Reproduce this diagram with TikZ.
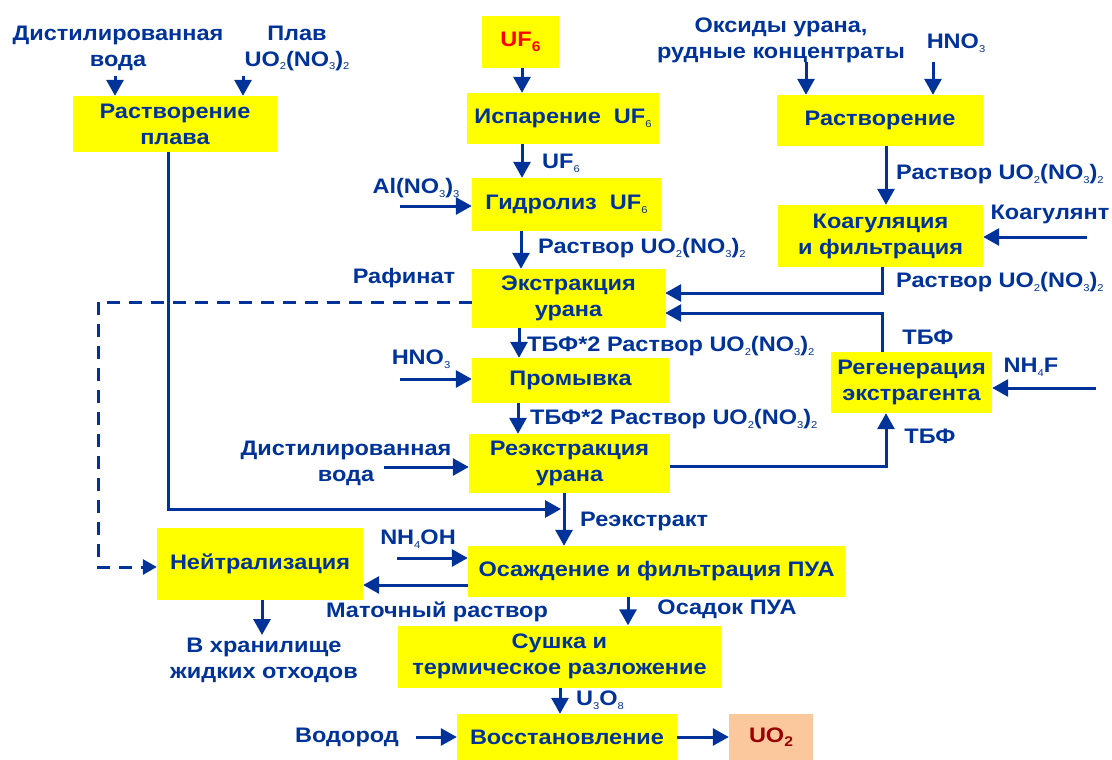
\documentclass[tikz,border=0pt]{standalone}
\usepackage{fontspec}
\setmainfont{Liberation Sans}[FakeStretch=1.12]
\usetikzlibrary{arrows.meta}

\definecolor{flowblue}{RGB}{0,51,153}
\definecolor{boxyellow}{RGB}{255,255,0}
\definecolor{prodfill}{RGB}{251,200,158}
\definecolor{prodred}{RGB}{153,0,0}

% chemical indices: thin small digits, and bold larger ones for the product boxes
\newcommand\chemsub[1]{\raisebox{-0.35ex}{\fontsize{10}{10}\selectfont\mdseries #1}}
\newcommand\chemsubb[1]{\raisebox{-0.4ex}{\fontsize{14}{14}\selectfont\bfseries #1}}

\tikzset{
  txt/.style={font=\bfseries\fontsize{21}{26}\selectfont, text=flowblue, align=center, inner sep=0pt},
  box/.style={txt, fill=boxyellow},
  prod/.style={txt, fill=prodfill, text=prodred},
  lbl/.style={txt},
  flow/.style={draw=flowblue, line width=3pt, -{Triangle[length=16pt,width=17pt]}},
  dflow/.style={draw=flowblue, line width=3pt, dash pattern=on 13pt off 9pt, -{Triangle[length=14pt,width=15pt]}}
}

\begin{document}
\begin{tikzpicture}[x=1pt,y=-1pt]
\useasboundingbox (0,0) rectangle (1112,760);
\fill[white] (0,0) rectangle (1112,760);

% process boxes
\node[box, minimum width=204pt, minimum height=56pt] (plav) at (175,124) {Растворение\\плава};
\node[box, minimum width=77pt, minimum height=52pt, text=red] (uf6) at (520.5,42) {UF\chemsubb{6}};
\node[box, minimum width=192pt, minimum height=51pt] (isp) at (563,118.5) {Испарение\ \ UF\chemsub{6}};
\node[box, minimum width=189pt, minimum height=53pt] (gidr) at (566.5,204.5) {Гидролиз\ \ UF\chemsub{6}};
\node[box, minimum width=206pt, minimum height=51pt] (rastv) at (880,120.5) {Растворение};
\node[box, minimum width=205pt, minimum height=62pt] (koag) at (880.5,236) {Коагуляция\\и фильтрация};
\node[box, minimum width=193pt, minimum height=59pt] (extr) at (568.5,298.5) {Экстракция\\урана};
\node[box, minimum width=197pt, minimum height=45pt] (prom) at (570.5,380.5) {Промывка};
\node[box, minimum width=161pt, minimum height=61pt] (regen) at (911.5,382.5) {Регенерация\\экстрагента};
\node[box, minimum width=201pt, minimum height=59pt] (reextr) at (569.5,463.5) {Реэкстракция\\урана};
\node[box, minimum width=206pt, minimum height=72pt] (neutr) at (260,564) {Нейтрализация};
\node[box, minimum width=377pt, minimum height=51pt] (osazh) at (656.5,571.5) {Осаждение и фильтрация ПУА};
\node[box, minimum width=323pt, minimum height=62pt] (sushka) at (559.5,656.5) {Сушка и\\термическое разложение};
\node[box, minimum width=220pt, minimum height=46pt] (vosst) at (567,737) {Восстановление};
\node[prod, minimum width=84pt, minimum height=46pt] (uo2) at (771,737) {UO\chemsubb{2}};

% stream labels
\node[lbl] (dw) at (118,48) {Дистилированная\\вода};
\node[lbl] (plavl) at (297,48) {Плав\\UO\chemsub{2}(NO\chemsub{3})\chemsub{2}};
\node[lbl] (oxl) at (781,40) {Оксиды урана,\\рудные концентраты};
\node[lbl] (hnoa) at (956,43) {HNO\chemsub{3}};
\node[lbl, anchor=west] (uf6l) at (542,163) {UF\chemsub{6}};
\node[lbl] (all) at (416,188) {Al(NO\chemsub{3})\chemsub{3}};
\node[lbl, anchor=west] (ra) at (538,248) {Раствор UO\chemsub{2}(NO\chemsub{3})\chemsub{2}};
\node[lbl, anchor=west] (rb) at (896,174) {Раствор UO\chemsub{2}(NO\chemsub{3})\chemsub{2}};
\node[lbl] (koagl) at (1050,214) {Коагулянт};
\node[lbl, anchor=west] (rc) at (896,282) {Раствор UO\chemsub{2}(NO\chemsub{3})\chemsub{2}};
\node[lbl] (raf) at (404,278) {Рафинат};
\node[lbl, anchor=west] (ta) at (527,346) {ТБФ*2 Раствор UO\chemsub{2}(NO\chemsub{3})\chemsub{2}};
\node[lbl] (hnob) at (421,359) {HNO\chemsub{3}};
\node[lbl, anchor=west] (tb) at (530,419) {ТБФ*2 Раствор UO\chemsub{2}(NO\chemsub{3})\chemsub{2}};
\node[lbl] (tbfa) at (928,337) {ТБФ};
\node[lbl] (nhf) at (1031,367) {NH\chemsub{4}F};
\node[lbl] (tbfb) at (930,436) {ТБФ};
\node[lbl] (dwb) at (346,463) {Дистилированная\\вода};
\node[lbl, anchor=west] (reel) at (580,521) {Реэкстракт};
\node[lbl] (nhoh) at (418,539) {NH\chemsub{4}OH};
\node[lbl] (mat) at (437,612) {Маточный раствор};
\node[lbl] (osl) at (727,609) {Осадок ПУА};
\node[lbl] (stor) at (264,660) {В хранилище\\жидких отходов};
\node[lbl, anchor=west] (uoo) at (576,700) {U\chemsub{3}O\chemsub{8}};
\node[lbl] (hyd) at (347,737) {Водород};

% free ends of the feed arrows
\coordinate (fdw) at (115,76);
\coordinate (fplav) at (243,76);
\coordinate (fal) at (400,206);
\coordinate (fox) at (806,62);
\coordinate (fhnoa) at (933,62);
\coordinate (fkoag) at (1087,237);
\coordinate (fhnob) at (400,379);
\coordinate (fdwb) at (384,467);
\coordinate (fnhf) at (1096,388);
\coordinate (fnhoh) at (397,558);
\coordinate (fhyd) at (416,737);
\coordinate (jre) at (561,509);
\coordinate (stout) at (262,635);

% feeds
\draw[flow] (fdw) -- (fdw |- plav.north);
\draw[flow] (fplav) -- (fplav |- plav.north);
\draw[flow] (fal) -- (fal -| gidr.west);
\draw[flow] (fox) -- (fox |- rastv.north);
\draw[flow] (fhnoa) -- (fhnoa |- rastv.north);
\draw[flow] (fkoag) -- (fkoag -| koag.east);
\draw[flow] (fhnob) -- (fhnob -| prom.west);
\draw[flow] (fdwb) -- (fdwb -| reextr.west);
\draw[flow] (fnhf) -- (fnhf -| regen.east);
\draw[flow] (fnhoh) -- (fnhoh -| osazh.west);
\draw[flow] (fhyd) -- (fhyd -| vosst.west);

% main line
\draw[flow] (522,0 |- uf6.south) -- (522,0 |- isp.north);
\draw[flow] (522,0 |- isp.south) -- (522,0 |- gidr.north);
\draw[flow] (521,0 |- gidr.south) -- (521,0 |- extr.north);
\draw[flow] (886,0 |- rastv.south) -- (886,0 |- koag.north);
\draw[flow] (882,0 |- koag.south) |- (extr.east |- 0,293);
\draw[flow] (882,0 |- regen.north) |- (extr.east |- 0,313);
\draw[dflow] (extr.west |- 0,302) -| (98,567) -- (neutr.west |- 0,567);
\draw[flow] (519,0 |- extr.south) -- (519,0 |- prom.north);
\draw[flow] (518,0 |- prom.south) -- (518,0 |- reextr.north);
\draw[flow] (reextr.east |- 0,466) -| (886,0 |- regen.south);
\draw[flow] (564,0 |- reextr.south) -- (564,0 |- osazh.north);
\draw[flow] (168,0 |- plav.south) |- (jre);
\draw[flow] (osazh.west |- 0,585) -- (neutr.east |- 0,585);
\draw[flow] (262,0 |- neutr.south) -- (stout);
\draw[flow] (628,0 |- osazh.south) -- (628,0 |- sushka.north);
\draw[flow] (560,0 |- sushka.south) -- (560,0 |- vosst.north);
\draw[flow] (vosst) -- (uo2);
\end{tikzpicture}
\end{document}
